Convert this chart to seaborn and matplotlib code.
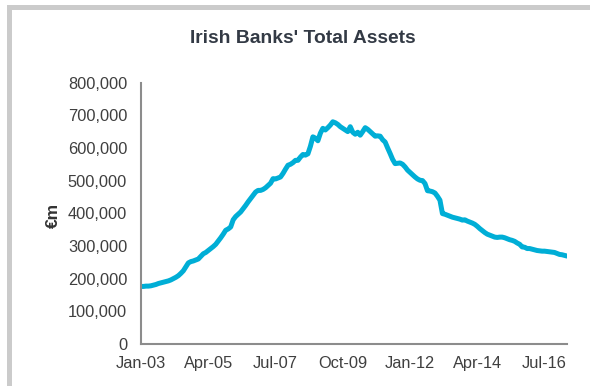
import matplotlib
matplotlib.use("Agg")
import matplotlib.pyplot as plt
from matplotlib.patches import Rectangle
from matplotlib.ticker import FuncFormatter
import numpy as np
import pandas as pd
import seaborn as sns

# Monthly total assets of Irish banks, €m (thousands), Jan-2003 onward
assets_k = [
    176, 176, 177, 177, 178, 180, 182, 185, 187, 189, 191, 193,   # 2003
    196, 200, 204, 209, 216, 224, 236, 248, 252, 254, 257, 260,   # 2004
    268, 276, 280, 286, 292, 298, 305, 315, 325, 336, 348, 352,   # 2005
    358, 380, 390, 397, 404, 414, 424, 435, 445, 455, 465, 470,   # 2006
    470, 473, 478, 485, 492, 506, 505, 508, 511, 522, 535, 547,   # 2007
    550, 555, 562, 562, 572, 580, 578, 582, 605, 634, 630, 622,   # 2008
    645, 660, 655, 662, 670, 680, 677, 672, 665, 660, 655, 650,   # 2009
    665, 648, 642, 648, 639, 650, 662, 657, 650, 643, 636, 637,   # 2010
    636, 625, 618, 600, 583, 565, 552, 553, 554, 550, 542, 532,   # 2011
    525, 518, 511, 505, 501, 500, 491, 469, 468, 466, 462, 452,   # 2012
    440, 399, 397, 394, 391, 388, 386, 384, 382, 379, 380, 376,   # 2013
    373, 370, 366, 360, 353, 347, 341, 336, 333, 330, 327, 326,   # 2014
    327, 327, 325, 322, 319, 317, 314, 309, 305, 297, 296, 292,   # 2015
    292, 290, 288, 286, 285, 284, 284, 283, 282, 281, 280, 277,   # 2016
    274, 273, 271, 269,                                           # 2017
]
months = pd.date_range("2003-01-01", periods=len(assets_k), freq="MS")
x_tick_labels = ["Jan-03", "Apr-05", "Jul-07", "Oct-09", "Jan-12", "Apr-14", "Jul-16"]
y_ticks = [0, 100000, 200000, 300000, 400000, 500000, 600000, 700000, 800000]

df = pd.DataFrame({
    "idx": np.arange(len(assets_k)),
    "assets": np.array(assets_k) * 1000,
})

sns.set_theme(style="white")
plt.rcParams["font.family"] = ["Liberation Sans", "DejaVu Sans"]

fig = plt.figure(figsize=(5.9, 3.86), dpi=100)
ax = fig.add_axes([0.239, 0.109, 0.722, 0.677])

sns.lineplot(data=df, x="idx", y="assets", ax=ax, color="#00AED6",
             linewidth=3.6, solid_joinstyle="round", solid_capstyle="round")

ax.set_xlim(0, len(assets_k) - 1)
ax.set_ylim(0, 800000)
ax.set_yticks(y_ticks)
ax.yaxis.set_major_formatter(FuncFormatter(lambda v, p: f"{int(v):,}"))
tick_pos = [months.get_loc(pd.to_datetime(lbl, format="%b-%y")) for lbl in x_tick_labels]
ax.set_xticks(tick_pos)
ax.set_xticklabels(x_tick_labels)

ax.tick_params(axis="both", length=0, labelsize=11.8, labelcolor="#3f3f3f")
ax.tick_params(axis="y", pad=10)
ax.tick_params(axis="x", pad=8.5)
ax.set_xlabel("")
ax.set_ylabel("")

for side in ("top", "right"):
    ax.spines[side].set_visible(False)
for side in ("left", "bottom"):
    ax.spines[side].set_color("#8c8c8c")
    ax.spines[side].set_linewidth(1.5)

fig.text(0.514, 0.899, "Irish Banks' Total Assets", ha="center", va="center",
         fontsize=13.9, fontweight="bold", color="#333a45")
fig.text(0.09, 1 - 215 / 386, "€m", ha="center", va="center", rotation=90,
         fontsize=12.5, fontweight="bold", color="#333333")

# chart-area frame along the top and left edges
fig.patches.append(Rectangle((7 / 590, 0), 5 / 590, 1 - 5 / 386, transform=fig.transFigure,
                             facecolor="#cbcbcb", edgecolor="none"))
fig.patches.append(Rectangle((7 / 590, 1 - 10 / 386), 1, 5 / 386, transform=fig.transFigure,
                             facecolor="#cbcbcb", edgecolor="none"))

fig.savefig("out.png", dpi=100)
